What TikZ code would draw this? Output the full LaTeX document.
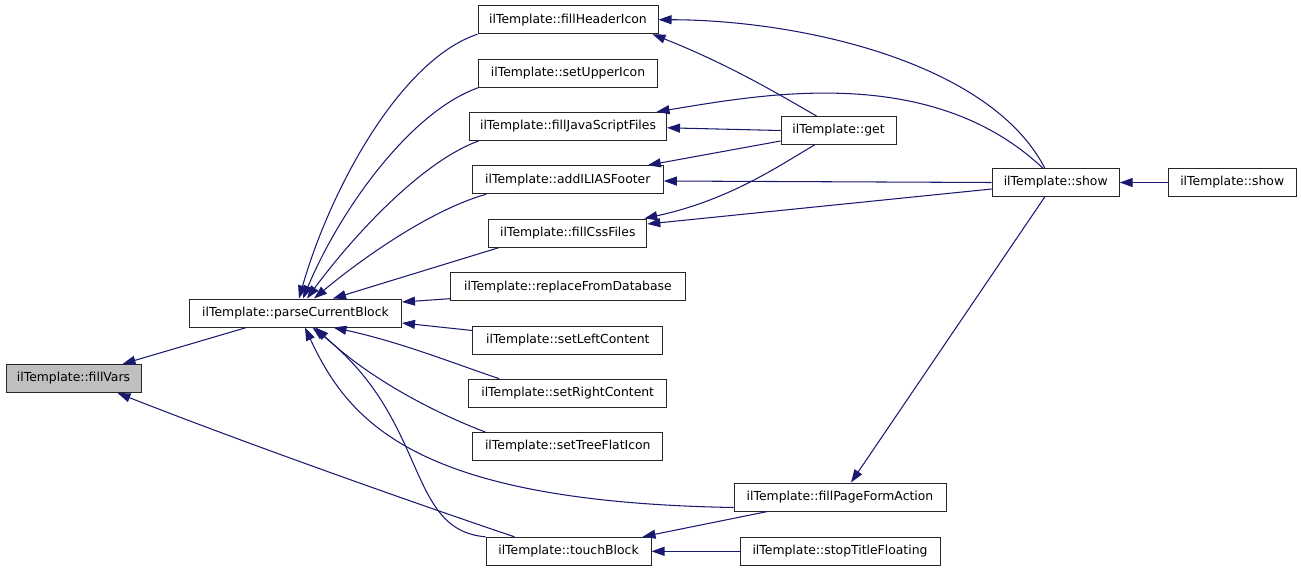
\documentclass[tikz,border=0pt]{standalone}
\usepackage{fontspec}
\setmainfont{DejaVu Sans}
\usetikzlibrary{arrows.meta}
\definecolor{edgecol}{HTML}{191970}
\definecolor{hl}{HTML}{BFBFBF}
\begin{document}
\begin{tikzpicture}[x=1pt,y=-1pt,
  fn/.style={draw=black!85, line width=1pt, fill=white, inner sep=0pt, minimum height=28pt, font=\fontsize{12.4}{14}\selectfont},
  e/.style={draw=edgecol, line width=1.05pt, -{Triangle[length=13pt,width=9pt,fill=edgecol]}}]
\useasboundingbox (0,0) rectangle (1301,571);
% nodes
\node[fn, minimum width=135pt, fill=hl] (fillVars) at (73.5,378.5) {ilTemplate::fillVars};
\node[fn, minimum width=212pt] (pcb) at (295.5,313) {ilTemplate::parseCurrentBlock};
\node[fn, minimum width=180pt] (fhi) at (568,19.7) {ilTemplate::fillHeaderIcon};
\node[fn, minimum width=179pt] (sui) at (568,73.3) {ilTemplate::setUpperIcon};
\node[fn, minimum width=197pt] (fjs) at (568,126.3) {ilTemplate::fillJavaScriptFiles};
\node[fn, minimum width=191pt] (aif) at (567.8,179.7) {ilTemplate::addILIASFooter};
\node[fn, minimum width=158pt] (fcss) at (567.8,233) {ilTemplate::fillCssFiles};
\node[fn, minimum width=235pt] (rfd) at (568,286.7) {ilTemplate::replaceFromDatabase};
\node[fn, minimum width=190pt] (slc) at (567.8,340) {ilTemplate::setLeftContent};
\node[fn, minimum width=198pt] (src) at (567.7,393.2) {ilTemplate::setRightContent};
\node[fn, minimum width=190pt] (stfi) at (567.8,446.5) {ilTemplate::setTreeFlatIcon};
\node[fn, minimum width=115pt] (get) at (838.5,130.5) {ilTemplate::get};
\node[fn, minimum width=127pt] (show) at (1055.7,182.5) {ilTemplate::show};
\node[fn, minimum width=128pt] (show2) at (1232.2,182.5) {ilTemplate::show};
\node[fn, minimum width=212pt] (fpfa) at (840,497) {ilTemplate::fillPageFormAction};
\node[fn, minimum width=165pt] (tb) at (568.5,551.3) {ilTemplate::touchBlock};
\node[fn, minimum width=200pt] (stf) at (840,551.3) {ilTemplate::stopTitleFloating};
% parseCurrentBlock callers
\draw[e] (fhi.south west) .. controls (400,60) and (330,190) .. ([xshift=3.5pt]pcb.north);
\draw[e] (sui.south west) .. controls (410,112) and (340,210) .. ([xshift=7.5pt]pcb.north);
\draw[e] ([xshift=10pt]fjs.south west) .. controls (420,162) and (350,240) .. ([xshift=11.5pt]pcb.north);
\draw[e] ([xshift=14.5pt]aif.south west) .. controls (430,210) and (360,260) .. ([xshift=18.5pt]pcb.north);
\draw[e] ([xshift=11pt]fcss.south west) -- ([xshift=37.5pt]pcb.north);
\draw[e] ([yshift=2.5pt]rfd.south west) -- ([yshift=11pt]pcb.east);
\draw[e] ([yshift=-5pt]slc.north west) -- ([yshift=-10pt]pcb.east);
\draw[e] ([xshift=31pt]src.north west) .. controls (450,362) and (400,342) .. ([xshift=38pt]pcb.south);
\draw[e] ([xshift=13pt]stfi.north west) .. controls (440,415) and (370,380) .. ([xshift=20pt]pcb.south);
\draw[e] ([yshift=4pt]fpfa.south west) .. controls (420,502) and (350,425) .. ([xshift=9.5pt]pcb.south);
\draw[e] (tb.north west) .. controls (405,530) and (430,420) .. ([xshift=17pt]pcb.south);
% fillVars callers
\draw[e] ([xshift=-49pt]pcb.south) -- ([xshift=-19pt]fillVars.north east);
\draw[e] ([xshift=29pt]tb.north west) .. controls (420,505) and (250,445) .. ([xshift=-24pt]fillVars.south east);
% get
\draw[e] ([xshift=36pt]get.north west) .. controls (780,95) and (730,65) .. ([xshift=-6pt]fhi.south east);
\draw[e] (get.west) -- ([yshift=-1.5pt]fjs.east);
\draw[e] ([yshift=-10.5pt]get.west) -- ([xshift=-16pt]aif.north east);
\draw[e] ([xshift=34pt]get.south west) .. controls (780,165) and (730,200) .. ([xshift=-3pt]fcss.north east);
% show
\draw[e] ([xshift=-11pt]show.north) .. controls (990,62) and (800,20) .. (fhi.east);
\draw[e] ([xshift=-13pt]show.north) .. controls (930,62) and (760,95) .. ([xshift=-10.5pt]fjs.north east);
\draw[e] (show.west) -- ([yshift=-1.3pt]aif.east);
\draw[e] ([yshift=-6.5pt]show.west) -- ([yshift=9pt]fcss.east);
\draw[e] ([xshift=-11pt]show.south) -- ([xshift=11pt]fpfa.north);
\draw[e] (show2.west) -- (show.east);
\draw[e] ([xshift=34pt]fpfa.south west) -- ([xshift=-9pt]tb.north east);
\draw[e] (stf.west) -- (tb.east);
\end{tikzpicture}
\end{document}
